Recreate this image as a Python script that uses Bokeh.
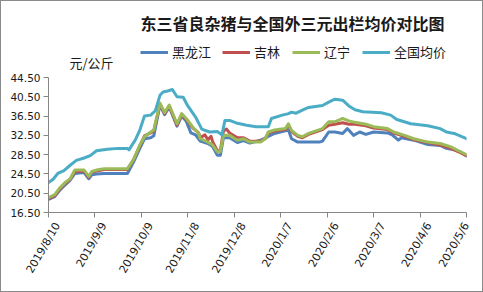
import math
import pandas as pd
from bokeh.plotting import figure
from bokeh.layouts import column
from bokeh.models import (FixedTicker, Label, Legend, LegendItem, Range1d,
                          ColumnDataSource, LinearAxis)
from bokeh.embed import file_html
from bokeh.resources import INLINE

# ---------------- data (days since 2019-08-10, price 元/公斤) ----------------
start_date = "2019-08-10"
tick_labels = ["2019/8/10", "2019/9/9", "2019/10/9", "2019/11/8", "2019/12/8",
               "2020/1/7", "2020/2/6", "2020/3/7", "2020/4/6", "2020/5/6"]
y_ticks = [16.5, 20.5, 24.5, 28.5, 32.5, 36.5, 40.5, 44.5]

hlj_days = [0, 4, 7, 11, 14, 17, 23, 26, 28, 31, 36, 51, 55, 59, 62, 66, 68, 72, 75, 78,
            83, 86, 89, 92, 95, 98, 103, 106, 109, 111, 113, 117, 122, 126, 130, 137, 140,
            142, 146, 151, 155, 157, 161, 175, 177, 181, 185, 190, 193, 197, 201, 205, 210,
            219, 222, 226, 228, 236, 245, 253, 257, 262, 266, 270]
hlj_vals = [19.2, 19.8, 21.0, 22.3, 23.2, 24.6, 24.8, 23.5, 24.3, 24.5, 24.6, 24.6, 27.0,
            29.8, 31.8, 32.0, 32.4, 38.8, 36.8, 38.4, 34.4, 36.5, 35.4, 33.0, 32.6, 31.3,
            30.8, 30.2, 28.4, 28.4, 32.0, 32.0, 31.0, 31.4, 30.9, 31.5, 31.9, 32.3, 32.9,
            33.3, 33.6, 31.8, 31.1, 31.1, 31.3, 33.2, 33.2, 32.9, 33.9, 32.5, 33.2, 32.7,
            33.2, 33.0, 32.6, 31.5, 32.0, 31.5, 30.6, 30.4, 29.8, 29.5, 29.1, 28.2]

jl_days = [0, 4, 7, 11, 14, 17, 23, 26, 28, 31, 36, 51, 55, 59, 62, 66, 68, 72, 75, 78,
           83, 86, 89, 93, 97, 98, 101, 103, 105, 106, 109, 111, 113, 115, 117, 122, 126,
           130, 137, 140, 142, 146, 153, 155, 157, 161, 164, 168, 177, 181, 185, 190, 194,
           198, 205, 210, 219, 223, 230, 236, 245, 253, 260, 266, 270]
jl_vals = [19.4, 20.0, 21.2, 22.6, 23.4, 25.0, 25.1, 23.8, 24.9, 25.1, 25.4, 25.4, 27.5,
           30.3, 32.4, 33.0, 33.4, 39.0, 37.0, 38.6, 34.6, 36.8, 35.8, 34.1, 33.0, 32.0,
           32.6, 31.6, 32.3, 31.2, 29.3, 29.3, 33.4, 33.8, 33.0, 32.0, 32.0, 31.3, 31.3,
           31.8, 33.0, 33.4, 33.7, 34.6, 33.3, 32.3, 32.0, 32.7, 33.7, 34.6, 34.8, 35.1,
           34.8, 34.8, 34.5, 34.0, 33.7, 33.0, 32.3, 31.6, 31.0, 30.5, 29.8, 28.9, 28.3]

ln_days = [0, 4, 7, 11, 14, 17, 23, 26, 28, 31, 36, 51, 55, 59, 62, 66, 68, 72, 75, 78,
           83, 86, 89, 93, 97, 98, 103, 106, 109, 111, 113, 117, 122, 126, 130, 137, 140,
           142, 146, 153, 155, 157, 161, 164, 168, 177, 181, 185, 190, 194, 198, 205, 210,
           219, 223, 230, 236, 245, 253, 260, 266, 270]
ln_vals = [19.6, 20.2, 21.5, 22.8, 23.5, 25.3, 25.3, 24.0, 25.0, 25.3, 25.6, 25.6, 27.5,
           30.5, 32.2, 33.2, 33.6, 39.2, 37.2, 38.8, 34.9, 37.0, 36.0, 34.3, 32.9, 31.8,
           31.1, 30.5, 29.1, 29.1, 32.5, 32.5, 31.5, 31.8, 31.1, 31.1, 31.8, 33.2, 33.6,
           33.9, 34.9, 33.5, 32.5, 32.2, 32.9, 33.9, 35.3, 35.3, 36.0, 35.5, 35.2, 34.8,
           34.3, 33.9, 33.2, 32.5, 31.8, 31.1, 30.8, 30.1, 29.1, 28.5]

nat_days = [0, 3, 6, 10, 14, 18, 23, 27, 31, 38, 45, 51, 52, 56, 59, 62, 66, 69, 72, 74,
            77, 80, 83, 87, 90, 95, 99, 104, 109, 112, 114, 117, 122, 128, 134, 142, 144,
            151, 155, 157, 160, 165, 168, 177, 181, 185, 190, 194, 198, 203, 215, 221, 225,
            234, 245, 253, 257, 262, 270]
nat_vals = [22.7, 23.4, 24.6, 25.2, 26.3, 27.3, 27.8, 28.3, 29.3, 29.6, 29.8, 29.8, 29.5,
            31.5, 33.6, 36.5, 36.7, 37.6, 40.8, 41.5, 41.7, 42.0, 40.5, 40.4, 38.6, 36.3,
            33.8, 33.2, 33.3, 32.6, 35.6, 35.6, 35.0, 34.6, 34.3, 34.3, 36.0, 36.7, 37.0,
            37.3, 37.1, 37.9, 38.3, 38.7, 39.4, 40.0, 39.8, 38.6, 37.8, 37.4, 37.2, 36.7,
            35.8, 34.9, 34.5, 33.9, 33.2, 32.9, 31.8]

title_text = "东三省良杂猪与全国外三元出栏均价对比图"
unit_text = "元/公斤"
series_names = ["黑龙江", "吉林", "辽宁", "全国均价"]
series_colors = ["#4F81BD", "#C0504D", "#9BBB59", "#4BACC6"]
all_days = [hlj_days, jl_days, ln_days, nat_days]
all_vals = [hlj_vals, jl_vals, ln_vals, nat_vals]

CJK = "Noto Sans CJK SC"
TXT = "#1a1a1a"
W, H_HEAD, H_MAIN = 481, 70, 220

# ---------------- header (title, legend, unit) ----------------
head = figure(width=W, height=H_HEAD, output_backend="svg", toolbar_location=None,
              x_range=Range1d(0, W), y_range=Range1d(0, H_HEAD),
              x_axis_location=None, y_axis_location=None,
              min_border=0, min_border_left=0, min_border_right=0,
              min_border_top=0, min_border_bottom=0,
              background_fill_color="white", border_fill_color="white")
head.outline_line_color = None
head.grid.visible = False

head.add_layout(Label(x=244, y=49, x_units="screen", y_units="screen",
                      text=title_text, text_align="center", text_baseline="middle",
                      text_font=CJK, text_font_size="16px", text_font_style="bold",
                      text_color=TXT))
head.add_layout(Label(x=21, y=9, x_units="screen", y_units="screen",
                      text=unit_text, text_align="left", text_baseline="middle",
                      text_font=CJK, text_font_size="13px", text_color=TXT))

# one single-item legend per series, placed like the reference's legend row
legend_x = [92, 174, 244, 314]
for name, col, lx in zip(series_names, series_colors, legend_x):
    sw = head.line(x=[float("nan")], y=[float("nan")], line_color=col, line_width=3)
    lg = Legend(items=[LegendItem(label=name, renderers=[sw])],
                orientation="horizontal", location=(lx, 10),
                glyph_width=28, glyph_height=14, label_standoff=4, spacing=0,
                padding=0, margin=0, border_line_color=None,
                background_fill_alpha=0, label_text_font=CJK,
                label_text_font_size="13px", label_text_color=TXT,
                label_height=16)
    head.add_layout(lg, "center")

# ---------------- main chart ----------------
t0 = pd.Timestamp(start_date)
tick_pos = [(pd.Timestamp(s.replace("/", "-")) - t0).days for s in tick_labels]
x_lo, x_hi = tick_pos[0], tick_pos[-1]

p = figure(width=W, height=H_MAIN, output_backend="svg", toolbar_location=None,
           x_range=Range1d(x_lo, x_hi), y_range=Range1d(16.5, 44.5),
           min_border_left=47, min_border_right=16, min_border_top=6,
           min_border_bottom=79, background_fill_color="white",
           border_fill_color="white")
p.outline_line_color = None
p.grid.visible = False

for days, vals, col in zip(all_days, all_vals, series_colors):
    src = ColumnDataSource(dict(x=days, y=vals))
    p.line("x", "y", source=src, line_color=col, line_width=3,
           line_join="round", line_cap="round")

# real axis: line and tick marks at the dates
xa = p.xaxis[0]
xa.ticker = FixedTicker(ticks=tick_pos)
xa.major_label_text_font_size = "0px"
xa.major_label_text_color = None
xa.major_label_standoff = 0

# label axis: the dates, set a little right of their tick like Excel does
frame_w = W - 47 - 16
shift = 9 * (x_hi - x_lo) / frame_w
lab_pos = [min(t + shift, x_hi) for t in tick_pos]
xl = LinearAxis(ticker=FixedTicker(ticks=lab_pos),
                major_label_overrides={lp: s for lp, s in zip(lab_pos, tick_labels)},
                major_label_orientation=math.pi / 3,
                axis_line_color=None, major_tick_line_color=None,
                major_tick_out=0, major_tick_in=0, minor_tick_line_color=None,
                major_label_standoff=6, major_label_text_font="DejaVu Sans",
                major_label_text_font_size="11px", major_label_text_color=TXT)
p.add_layout(xl, "below")

p.yaxis.ticker = FixedTicker(ticks=y_ticks)
p.yaxis.major_label_overrides = {v: f"{v:.2f}" for v in y_ticks}
for ax in (xa, p.yaxis[0]):
    ax.axis_line_color = "#868686"
    ax.major_tick_line_color = "#868686"
    ax.major_tick_out = 5
    ax.major_tick_in = 0
    ax.minor_tick_line_color = None
p.yaxis.major_label_text_color = TXT
p.yaxis.major_label_text_font = "DejaVu Sans"
p.yaxis.major_label_text_font_size = "10.5px"
p.yaxis.major_label_standoff = 3

layout = column(head, p, spacing=0, styles={"border": "1px solid #8a8a8a"})

open("out.html", "w").write(file_html(layout, INLINE))
